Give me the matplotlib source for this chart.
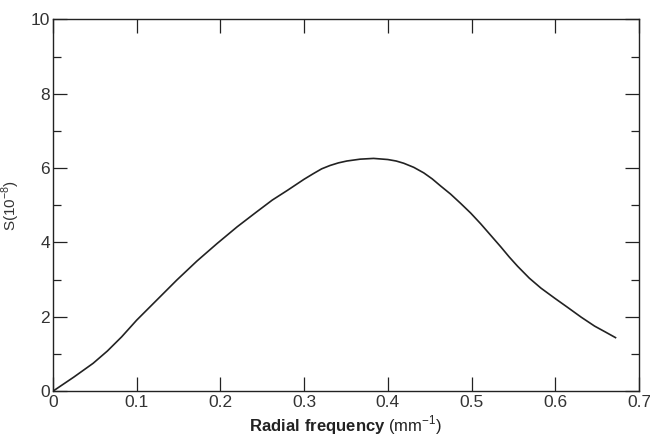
import matplotlib
matplotlib.use("Agg")
from matplotlib import pyplot as plt

# values
freq = [0.0, 0.025, 0.048, 0.065, 0.082, 0.100, 0.128, 0.148, 0.172, 0.196,
        0.220, 0.242, 0.262, 0.280, 0.300, 0.311, 0.321, 0.331, 0.341, 0.351,
        0.367, 0.383, 0.400, 0.410, 0.419, 0.431, 0.443, 0.453, 0.463, 0.475,
        0.487, 0.499, 0.511, 0.523, 0.535, 0.545, 0.555, 0.569, 0.583, 0.600,
        0.615, 0.631, 0.647, 0.660, 0.672]
S = [0.0, 0.38, 0.75, 1.08, 1.46, 1.91, 2.54, 2.99, 3.50, 3.97,
     4.42, 4.80, 5.14, 5.40, 5.70, 5.85, 5.98, 6.07, 6.14, 6.19,
     6.24, 6.26, 6.23, 6.19, 6.13, 6.02, 5.87, 5.71, 5.52, 5.30,
     5.05, 4.79, 4.50, 4.19, 3.88, 3.61, 3.36, 3.04, 2.77, 2.49,
     2.25, 1.99, 1.75, 1.59, 1.44]

xticks = [0, 0.1, 0.2, 0.3, 0.4, 0.5, 0.6, 0.7]
xticklabels = ["0", "0.1", "0.2", "0.3", "0.4", "0.5", "0.6", "0.7"]
yticks = [0, 2, 4, 6, 8, 10]

plt.rcParams["font.family"] = ["Liberation Sans", "DejaVu Sans"]
plt.rcParams["mathtext.fontset"] = "custom"
plt.rcParams["mathtext.rm"] = "Liberation Sans"
plt.rcParams["mathtext.bf"] = "Liberation Sans:bold"

fig = plt.figure(figsize=(6.5, 4.4), dpi=100)
ax = fig.add_axes([0.0815, 0.111, 0.9015, 0.845])

ink = "#222222"
ax.plot(freq, S, color=ink, lw=1.2)

ax.set_xlim(0, 0.7)
ax.set_ylim(0, 10)
ax.set_xticks(xticks)
ax.set_xticklabels(xticklabels)
ax.set_yticks(yticks)
ax.set_yticks([1, 3, 5, 7, 9], minor=True)

# ticks point inward on all four sides, like the original plot
ax.tick_params(which="major", direction="in", length=10, width=0.9, color=ink,
               top=True, right=True, labelsize=12.5, labelcolor="#333333", pad=3)
ax.tick_params(which="minor", direction="in", length=6, width=0.9, color=ink,
               right=True)
ax.tick_params(axis="y", which="major", pad=2)
for sp in ax.spines.values():
    sp.set_color(ink)
    sp.set_linewidth(1.0)

ax.set_xlabel(r"$\bf{Radial\ frequency}$ (mm$^{-1}$)", fontsize=12,
              color=ink, labelpad=2)
ax.set_ylabel(r"S(10$^{-8}$)", fontsize=11, color="#333333", labelpad=6)

fig.savefig("out.png", dpi=100)
